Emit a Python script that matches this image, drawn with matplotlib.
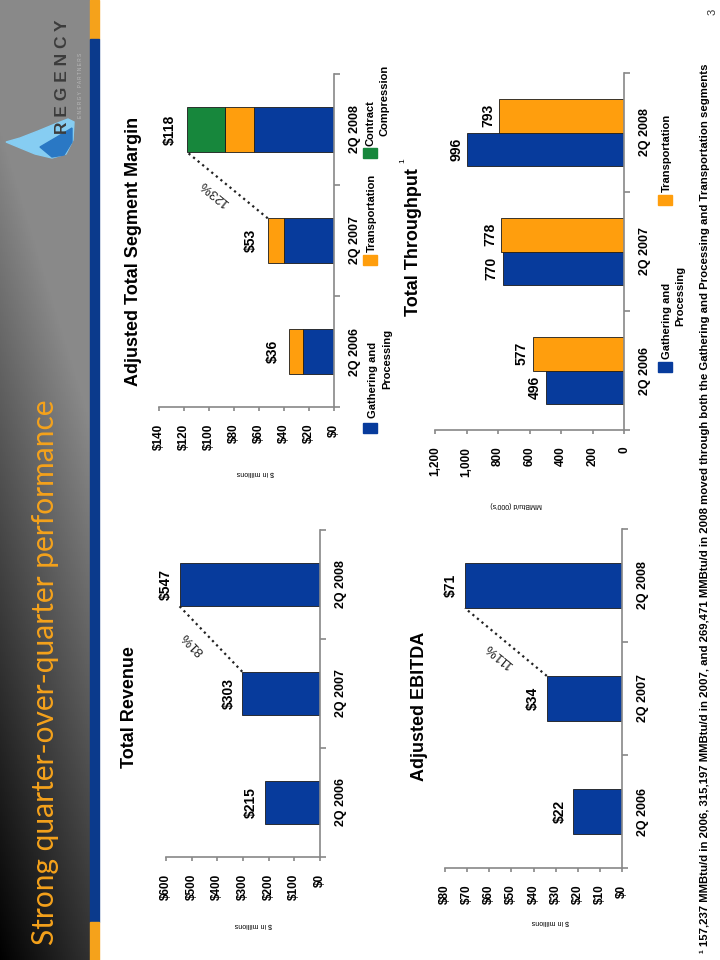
import numpy as np
import matplotlib
matplotlib.use('Agg')
import matplotlib.pyplot as plt
from matplotlib.patches import Rectangle, Polygon
from matplotlib import font_manager

# slide is shown turned a quarter turn, so every chart is drawn with barh
plt.rcParams['font.family'] = 'Liberation Sans'

quarters = ['2Q 2006', '2Q 2007', '2Q 2008']

revenue = [215, 303, 547]
revenue_labels = ['$215', '$303', '$547']

ebitda = [22, 34, 71]
ebitda_labels = ['$22', '$34', '$71']

margin_gp = [25, 40, 64]
margin_trans = [11, 13, 23]
margin_cc = [0, 0, 31]
margin_labels = ['$36', '$53', '$118']

thru_gp = [496, 770, 996]
thru_trans = [577, 778, 793]

growth = ['81%', '111%', '123%']

BLUE = '#073B9C'
ORANGE = '#FF9E0D'
GREEN = '#17873C'
AXIS = '#888888'

W, H = 720, 960
fig = plt.figure(figsize=(7.2, 9.6), dpi=100)

try:
    font_manager.findfont(font_manager.FontProperties(family='Liberation Sans Narrow'),
                          fallback_to_default=False)
    narrow = 'Liberation Sans Narrow'
    foot_size = 9.8
except Exception:
    narrow = 'Liberation Sans'
    foot_size = 8.2


def px_axes(x0, y0, x1, y1):
    return fig.add_axes([x0 / W, 1 - y1 / H, (x1 - x0) / W, (y1 - y0) / H])


def ftext(x, y, s, **kw):
    return fig.text(x / W, 1 - y / H, s, **kw)


# background: dark band on the left
bg = fig.add_axes([0, 0, 1, 1], zorder=-1)
bg.set_xlim(0, W)
bg.set_ylim(H, 0)
bg.axis('off')
yy, xx = np.mgrid[0:960:4, 0:90:1]
shade = 0.54 * np.clip((1 - yy / 960) * 1.15 + xx / 90 * 0.35, 0, 1)
bg.imshow(np.dstack([shade] * 3), extent=(0, 90, 960, 0), aspect='auto')
bg.add_patch(Rectangle((90, 0), 9, 39, color='#F5A21B'))
bg.add_patch(Rectangle((90, 39), 9, 883, color='#0B3A8C'))
bg.add_patch(Rectangle((90, 922), 9, 38, color='#F5A21B'))
# flame of the logo
bg.add_patch(Polygon([(6, 142), (20, 138), (38, 131), (55, 124), (68, 119), (74, 122),
                      (73, 140), (66, 154), (52, 158), (35, 154), (18, 147)],
                     closed=True, color='#86CDF2'))
bg.add_patch(Polygon([(40, 147), (57, 137), (72, 128), (72, 142), (64, 155), (52, 157)],
                     closed=True, color='#2A78C4'))

ftext(45, 945, 'Strong quarter-over-quarter performance', rotation=90, ha='center',
      va='bottom', color='#F5A21B', family='Lato', fontsize=21.5)
ftext(63, 134, 'R E G E N C Y', rotation=90, ha='center', va='bottom', color='#3C3C3C',
      fontsize=12.5, fontweight='bold')
ftext(81, 118, 'E N E R G Y   P A R T N E R S', rotation=90, ha='center', va='bottom',
      color='#BBBBBB', fontsize=3.4)
ftext(713, 12, '3', rotation=90, ha='center', va='center', color='#333333', fontsize=8)


def style(ax, vmax, step, ticks):
    ax.patch.set_alpha(0)
    ax.set_xlim(vmax, 0)
    ax.set_ylim(-0.5, 2.5)
    for s in ['top', 'left']:
        ax.spines[s].set_visible(False)
    for s in ['bottom', 'right']:
        ax.spines[s].set_color(AXIS)
        ax.spines[s].set_linewidth(1.2)
    ax.yaxis.tick_right()
    ax.set_yticks(range(3), labels=quarters)
    for lab in ax.get_yticklabels():
        lab.set_rotation(90)
        lab.set_va('center')
        lab.set_ha('left')
        lab.set_fontweight('bold')
        lab.set_fontsize(9)
    ax.tick_params(axis='y', which='major', length=0, pad=10.5)
    ax.set_yticks([-0.5, 0.5, 1.5, 2.5], minor=True)
    ax.tick_params(axis='y', which='minor', length=4, width=1.2, color=AXIS)
    ax.set_xticks(np.arange(0, vmax + 1, step), labels=ticks)
    for lab in ax.get_xticklabels():
        lab.set_rotation(90)
        lab.set_fontweight('bold')
        lab.set_fontsize(8.5)
    ax.tick_params(axis='x', length=3, width=1.2, color=AXIS, pad=9)


def values(ax, xs, ys, labels, off=10):
    for v, p, s in zip(xs, ys, labels):
        ax.annotate(s, (v, p), xytext=(-off, 0), textcoords='offset points', rotation=90,
                    ha='center', va='center', fontsize=10, fontweight='bold')


def growth_line(ax, v1, v2, h, tx, ty, s):
    ax.plot([v1, v2], [1 + h / 2, 2 - h / 2], color='#222222', ls=':', lw=1.6)
    p1 = ax.transData.transform((v1, 1 + h / 2))
    p2 = ax.transData.transform((v2, 2 - h / 2))
    ang = np.degrees(np.arctan2(p2[1] - p1[1], p2[0] - p1[0]))
    ax.text(tx, ty, s, rotation=ang, rotation_mode='anchor',
            ha='center', va='center', fontsize=9.5, color='#222222')


pos = np.arange(3)

# Total Revenue
ax = px_axes(166, 530, 320, 857)
style(ax, 600, 100, ['$0', '$100', '$200', '$300', '$400', '$500', '$600'])
ax.barh(pos, revenue, height=0.4, color=BLUE, edgecolor='#1a1a1a', lw=0.6)
values(ax, revenue, pos, revenue_labels)
growth_line(ax, revenue[1], revenue[2], 0.4, 495, 1.46, growth[0])
ftext(130, 707, 'Total Revenue', rotation=90, ha='center', va='center', fontsize=13,
      fontweight='bold')
ftext(253, 925, '$ in millions', rotation=180, ha='center', va='center', fontsize=5)

# Adjusted EBITDA
ax = px_axes(445, 529, 622, 868)
style(ax, 80, 10, ['$' + str(v) for v in range(0, 81, 10)])
ax.barh(pos, ebitda, height=0.4, color=BLUE, edgecolor='#1a1a1a', lw=0.6)
values(ax, ebitda, pos, ebitda_labels)
growth_line(ax, ebitda[1], ebitda[2], 0.4, 56, 1.385, growth[1])
ftext(420, 706, 'Adjusted EBITDA', rotation=90, ha='center', va='center', fontsize=13,
      fontweight='bold')
ftext(550, 922, '$ in millions', rotation=180, ha='center', va='center', fontsize=5)

# Adjusted Total Segment Margin
ax = px_axes(159, 74, 334, 407)
style(ax, 140, 20, ['$' + str(v) for v in range(0, 141, 20)])
ax.barh(pos, margin_gp, height=0.4, color=BLUE, edgecolor='#1a1a1a', lw=0.6)
ax.barh(pos, margin_trans, left=margin_gp, height=0.4, color=ORANGE, edgecolor='#1a1a1a', lw=0.6)
left2 = np.add(margin_gp, margin_trans)
ax.barh(pos[2:], margin_cc[2:], left=left2[2:], height=0.4, color=GREEN, edgecolor='#1a1a1a',
        lw=0.6)
totals = left2 + np.array(margin_cc)
values(ax, totals, pos, margin_labels, off=12)
growth_line(ax, totals[1], totals[2], 0.4, 96, 1.43, growth[2])
ftext(133, 251, 'Adjusted Total Segment Margin', rotation=90, ha='center', va='center',
      fontsize=13, fontweight='bold')
ftext(255, 473, '$ in millions', rotation=180, ha='center', va='center', fontsize=5)

# margin legend
bg.add_patch(Rectangle((363, 423), 14, 10, color=BLUE))
bg.add_patch(Rectangle((363, 255), 14, 10, color=ORANGE))
bg.add_patch(Rectangle((363, 148), 14, 10, color=GREEN))
leg = dict(rotation=90, ha='center', va='bottom', fontsize=8, fontweight='bold')
ftext(373, 418, 'Gathering and', **leg)
ftext(387, 389, 'Processing', **leg)
ftext(372, 252, 'Transportation', **leg)
ftext(371, 146, 'Contract', **leg)
ftext(385, 136, 'Compression', **leg)

# Total Throughput
ax = px_axes(435, 73, 624, 430)
style(ax, 1200, 200, ['0', '200', '400', '600', '800', '1,000', '1,200'])
ax.barh(pos - 0.14, thru_gp, height=0.28, color=BLUE, edgecolor='#1a1a1a', lw=0.6)
ax.barh(pos + 0.14, thru_trans, height=0.28, color=ORANGE, edgecolor='#1a1a1a', lw=0.6)
values(ax, thru_gp, pos - 0.14, [str(v) for v in thru_gp], off=8)
values(ax, thru_trans, pos + 0.14, [str(v) for v in thru_trans], off=8)
ftext(413, 242, 'Total Throughput', rotation=90, ha='center', va='center', fontsize=13,
      fontweight='bold')
ftext(403, 163, '1', rotation=90, ha='center', va='bottom', fontsize=6)
ftext(516, 505, "MMBtu/d (000's)", rotation=180, ha='center', va='center', fontsize=5)

bg.add_patch(Rectangle((658, 362), 14, 10, color=BLUE))
bg.add_patch(Rectangle((658, 195), 14, 10, color=ORANGE))
ftext(667, 359, 'Gathering and', **leg)
ftext(680, 326, 'Processing', **leg)
ftext(667, 192, 'Transportation', **leg)

# footnote
ftext(705, 953, '\u00b9 157,237 MMBtu/d in 2006, 315,197 MMBtu/d in 2007, and 269,471 MMBtu/d '
      'in 2008 moved through both the Gathering and Processing and Transportation segments',
      rotation=90, ha='center', va='bottom', fontsize=foot_size, fontweight='bold', family=narrow)

fig.savefig('out.png', dpi=100)
